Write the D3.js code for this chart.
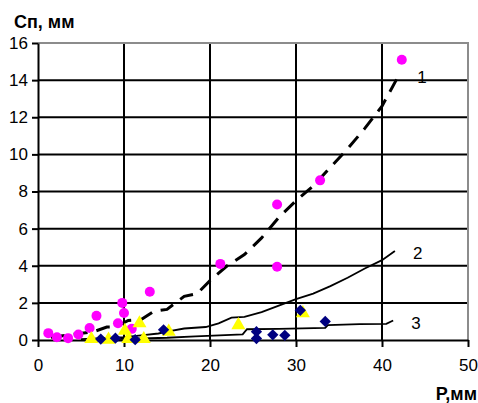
<!DOCTYPE html>
<html>
<head>
<meta charset="utf-8">
<script src="https://cdn.jsdelivr.net/npm/d3@7"></script>
<style>
  body { margin: 0; background: #fff; }
  text { font-family: "Liberation Sans", Arial, sans-serif; }
</style>
</head>
<body>
<svg id="chart" width="478" height="403"></svg>
<script>
// ---- DATA ----
let xTicks = [0, 10, 20, 30, 40, 50];
let yTicks = [0, 2, 4, 6, 8, 10, 12, 14, 16];

// measured points
let pointsMagenta = [[1.2, 0.37], [2.2, 0.15], [3.5, 0.1], [4.7, 0.3], [6.0, 0.65], [6.8, 1.3],
  [9.3, 0.9], [9.8, 2.0], [10.0, 1.45], [10.9, 0.6], [13.0, 2.6], [21.2, 4.1],
  [27.8, 3.95], [27.8, 7.3], [32.8, 8.6], [42.3, 15.1]];
let pointsYellow = [[6.2, 0.05], [8.2, 0.02], [10.1, 0.5], [10.5, 0.05], [11.8, 0.9],
  [12.3, 0.05], [15.2, 0.45], [23.3, 0.8], [30.8, 1.45]];
let pointsNavy = [[7.3, 0.05], [9.0, 0.1], [11.3, 0.02], [14.6, 0.55], [25.4, 0.45],
  [25.4, 0.08], [27.3, 0.28], [28.7, 0.25], [30.5, 1.6], [33.4, 1.0]];

// calculated curves
let curve1 = [[1.5, 0.15], [4, 0.3], [6.5, 0.45], [8, 0.7], [9, 0.7], [10.5, 1.05], [12, 1.1],
  [13.5, 1.55], [15, 1.65], [17, 2.35], [18.5, 2.5], [20, 3.2], [22, 4.0], [24, 4.6],
  [26, 5.5], [28, 6.6], [30, 7.5], [32, 8.3], [34, 9.3], [36, 10.3], [38, 11.4],
  [40, 12.6], [42, 14.3]];
let curve2 = [[5, 0.05], [10, 0.15], [12, 0.25], [14, 0.35], [15, 0.45], [17, 0.62],
  [19.5, 0.7], [21, 0.9], [22.5, 1.2], [24, 1.25], [26, 1.5], [28, 1.85], [30, 2.2],
  [32, 2.5], [34, 2.9], [36, 3.35], [38, 3.85], [40, 4.3], [41.5, 4.8]];
let curve3 = [[7, 0.03], [12, 0.08], [15, 0.12], [18.3, 0.2], [23.8, 0.3], [24.3, 0.58],
  [28, 0.6], [33.4, 0.65], [33.7, 0.8], [37.4, 0.86], [40.5, 0.87], [41.3, 1.05]];

let curveLabels = [["1", 42, 14.3], ["2", 41.5, 4.8], ["3", 41.3, 1.05]];

// ---- LAYOUT ----
let svg = d3.select("#chart");
let mLeft = 38, mRight = 468, mTop = 43, mBottom = 340;

let x = d3.scaleLinear().domain([0, 50]).range([mLeft, mRight]);
let y = d3.scaleLinear().domain([0, 16]).range([mBottom, mTop]);

// grid
let grid = svg.append("g");
grid.selectAll("line.h").data(yTicks.filter(d => d > 0 && d < 16)).enter().append("line")
  .attr("x1", mLeft).attr("x2", mRight)
  .attr("y1", d => y(d)).attr("y2", d => y(d))
  .attr("stroke", "#000").attr("stroke-width", 2);
grid.selectAll("line.v").data(xTicks.filter(d => d > 0 && d < 50)).enter().append("line")
  .attr("x1", d => x(d)).attr("x2", d => x(d))
  .attr("y1", mTop).attr("y2", mBottom)
  .attr("stroke", "#000").attr("stroke-width", 2);

// gray frame top/right
svg.append("path")
  .attr("d", `M${mLeft},${mTop}H${mRight}V${mBottom}`)
  .attr("fill", "none").attr("stroke", "#8c8c8c").attr("stroke-width", 2);

// axes
let yAxis = svg.append("g")
  .attr("transform", `translate(${mLeft},0)`)
  .call(d3.axisLeft(y).tickValues(yTicks).tickSize(6).tickPadding(4).tickSizeOuter(0));
let xAxis = svg.append("g")
  .attr("transform", `translate(0,${mBottom})`)
  .call(d3.axisBottom(x).tickValues(xTicks).tickSize(7).tickPadding(12).tickSizeOuter(0));

[xAxis, yAxis].forEach(a => {
  a.select(".domain").attr("stroke", "#000").attr("stroke-width", 2);
  a.selectAll(".tick line").attr("stroke", "#000").attr("stroke-width", 2);
  a.selectAll(".tick text").attr("fill", "#000").attr("font-size", "17px")
    .attr("font-family", "'Liberation Sans', Arial, sans-serif");
});

// ---- CURVES ----
let line = d3.line().x(d => x(d[0])).y(d => y(d[1]));

svg.append("path").datum(curve2).attr("d", line)
  .attr("fill", "none").attr("stroke", "#000").attr("stroke-width", 1.8);
svg.append("path").datum(curve3).attr("d", line)
  .attr("fill", "none").attr("stroke", "#000").attr("stroke-width", 1.8);
svg.append("path").datum(curve1).attr("d", line)
  .attr("fill", "none").attr("stroke", "#000").attr("stroke-width", 3)
  .attr("stroke-dasharray", "14,9");

// ---- MARKERS ----
svg.append("g").selectAll("circle").data(pointsMagenta).enter().append("circle")
  .attr("cx", d => x(d[0])).attr("cy", d => y(d[1])).attr("r", 5)
  .attr("fill", "#ff00ff");

svg.append("g").selectAll("path").data(pointsYellow).enter().append("path")
  .attr("d", d3.symbol().type(d3.symbolTriangle).size(85))
  .attr("transform", d => `translate(${x(d[0])},${y(d[1])})`)
  .attr("fill", "#ffff00");

svg.append("g").selectAll("path").data(pointsNavy).enter().append("path")
  .attr("d", d3.symbol().type(d3.symbolSquare).size(64))
  .attr("transform", d => `translate(${x(d[0])},${y(d[1])}) rotate(45)`)
  .attr("fill", "#000080");

// ---- LABELS ----
svg.selectAll("text.curve").data(curveLabels).enter().append("text")
  .attr("class", "curve")
  .attr("x", d => x(d[1]) + 18)
  .attr("y", d => y(d[2]) + 8)
  .attr("font-size", "17px")
  .text(d => d[0]);

svg.append("text")
  .attr("x", 14).attr("y", 28)
  .attr("font-size", "18px").attr("font-weight", "bold")
  .text("Сп, мм");

svg.append("text")
  .attr("x", 477).attr("y", 400)
  .attr("text-anchor", "end")
  .attr("font-size", "18px").attr("font-weight", "bold")
  .text("Р,мм");
</script>
</body>
</html>
